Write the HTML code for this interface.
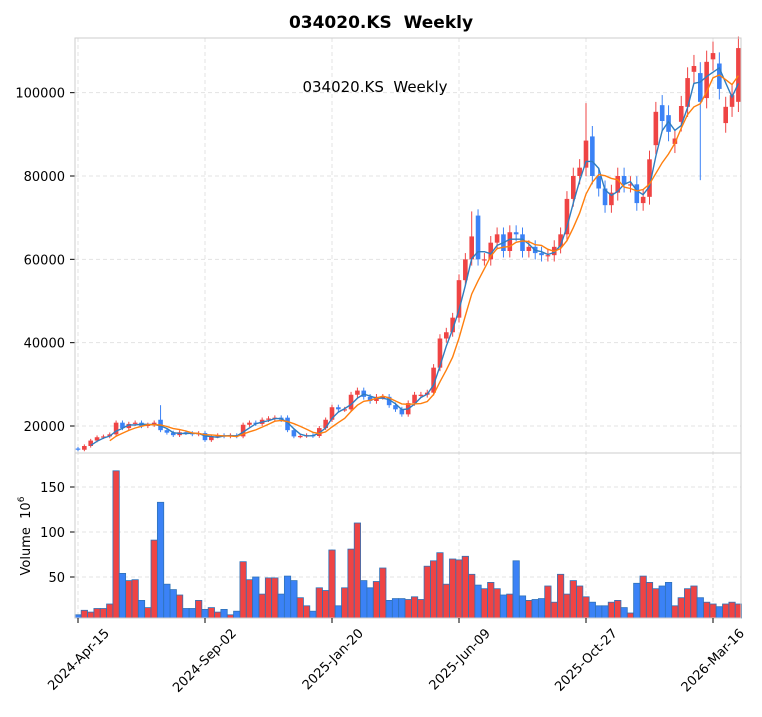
<!DOCTYPE html>
<html><head><meta charset="utf-8"><style>
body{margin:0;background:#fff;font-family:"Liberation Sans","DejaVu Sans",sans-serif}
svg text{font-family:"DejaVu Sans","Liberation Sans",sans-serif}
</style></head><body>
<svg id="s" width="762" height="712" xmlns="http://www.w3.org/2000/svg"></svg>
<script>
const S=document.getElementById('s');let h='';
const C=[14.3,15.2,16.5,17.3,17.5,18,20.8,19.5,20.5,20.8,20.0,20.3,20.8,19.0,18.4,17.8,18.5,18.3,18,18.3,16.6,17.5,17.8,17.5,17.8,17.5,20.3,20.8,20.5,21.5,21.8,22,21.5,19,17.5,17.6,17.8,17.6,19.5,21.5,24.5,24,24,27.5,28.5,27,26,27,27,25,24,22.8,25.5,27.5,27.5,28,34,41,42.5,46,55,60,65.5,60,60,64,66,62,66.5,66,62,63,61.5,61,61,63,66,74.5,80,82,88.5,80,77,73,76,80,78,78,73.5,75,84,
95.4,93.2,90.6,89,96.8,103.5,106.4,97.8,107.4,109.5,100.9,96.6,99.4,110.7];
const O=C.map((c,i)=>i?C[i-1]:14.6);
const ov={13:21.5,33:22,63:70.5,81:89.5,91:87.4,92:97,93:94.6,94:87.7,95:93,96:96.6,97:105,98:104.7,99:98.7,100:108,101:107,102:92.7,103:96.6,104:97.8};
for(const k in ov)O[k]=ov[k];
const V=[8,13,11,15,15,20,168,54,46,47,24,16,91,133,42,36,30,15,15,24,14,16,11,14,8,12,67,47,50,31,49,49,31,51,46,27,18,12,38,35,80,18,38,81,110,46,38,45,60,24,26,26,25,28,25,62,68,77,42,70,69,73,53,41,37,44,37,30,31,68,29,24,25,26,40,22,53,31,46,40,28,22,18,18,22,24,16,10,43,51,44,37,40,44,18,27,37,40,27,22,20,17,20,22,20];
const X=i=>78+6.35*i, Y=v=>426-(v-20)*4.1667, VY=v=>622-v*0.9;
const RED='#ef4444',BLU='#3b82f6';
const xt=[[0,'2024-Apr-15'],[20,'2024-Sep-02'],[40,'2025-Jan-20'],[60,'2025-Jun-09'],[80,'2025-Oct-27'],[100,'2026-Mar-16']];
xt.forEach(([i])=>{h+=`<line x1="${X(i)}" x2="${X(i)}" y1="38" y2="618" stroke="#e3e3e3" stroke-dasharray="4,3"/>`});
[20,40,60,80,100].forEach(v=>{h+=`<line x1="75" x2="741" y1="${Y(v)}" y2="${Y(v)}" stroke="#e3e3e3" stroke-dasharray="4,3"/><line x1="70" x2="75" y1="${Y(v)}" y2="${Y(v)}" stroke="#000"/><text x="65" y="${Y(v)+5}" font-size="13" text-anchor="end">${v*1000}</text>`});
[50,100,150].forEach(v=>{h+=`<line x1="75" x2="741" y1="${VY(v)}" y2="${VY(v)}" stroke="#e3e3e3" stroke-dasharray="4,3"/><line x1="70" x2="75" y1="${VY(v)}" y2="${VY(v)}" stroke="#000"/><text x="65" y="${VY(v)+5}" font-size="13" text-anchor="end">${v}</text>`});
C.forEach((c,i)=>{const o=O[i];let hi=Math.max(o,c)*1.025,lo=Math.min(o,c)*0.975;
if(i==98)lo=79;if(i==81)hi=92;if(i==80)hi=97.5;if(i==63)hi=72;if(i==62)hi=71.5;if(i==13)hi=25;
const col=c>=o?RED:BLU,x=X(i);
h+=`<line x1="${x}" x2="${x}" y1="${Y(hi)}" y2="${Y(lo)}" stroke="${col}" stroke-width="1"/>`;
const t=Y(Math.max(o,c)),b=Y(Math.min(o,c));
h+=`<rect x="${x-2.3}" y="${t}" width="4.6" height="${Math.max(b-t,1.2)}" fill="${col}"/>`;
const vv=V[i]||20;h+=`<rect x="${x-3.17}" y="${VY(vv)}" width="6.35" height="${618-VY(vv)}" fill="${col}" stroke="#2f72b8" stroke-width="0.8"/>`;
});
function ma(n,col){let p=[];for(let i=n-1;i<C.length;i++){let s=0;for(let k=0;k<n;k++)s+=C[i-k];p.push(X(i).toFixed(1)+','+Y(s/n).toFixed(1))}
h+=`<polyline points="${p.join(' ')}" fill="none" stroke="${col}" stroke-width="1.4"/>`}
ma(3,'#2f7dc0');ma(6,'#ff7f0e');
h+=`<rect x="75" y="38" width="666" height="580" fill="none" stroke="#ccc"/><line x1="75" x2="741" y1="453" y2="453" stroke="#ccc"/>`;
xt.forEach(([i,l])=>{const x=X(i);h+=`<line x1="${x}" x2="${x}" y1="618" y2="623" stroke="#000"/><text transform="translate(${x+32},${634}) rotate(-45)" font-size="13" text-anchor="end">${l}</text>`});
h+=`<text x="381" y="28" font-size="17" font-weight="bold" text-anchor="middle">034020.KS&#160;&#160;Weekly</text>`;
h+=`<text x="375" y="92" font-size="15" text-anchor="middle">034020.KS&#160;&#160;Weekly</text>`;
h+=`<text transform="translate(30,536) rotate(-90)" font-size="13" text-anchor="middle">Volume&#160;&#160;10<tspan dy="-6" font-size="9">6</tspan></text>`;
S.innerHTML=h;
</script>
</body></html>
